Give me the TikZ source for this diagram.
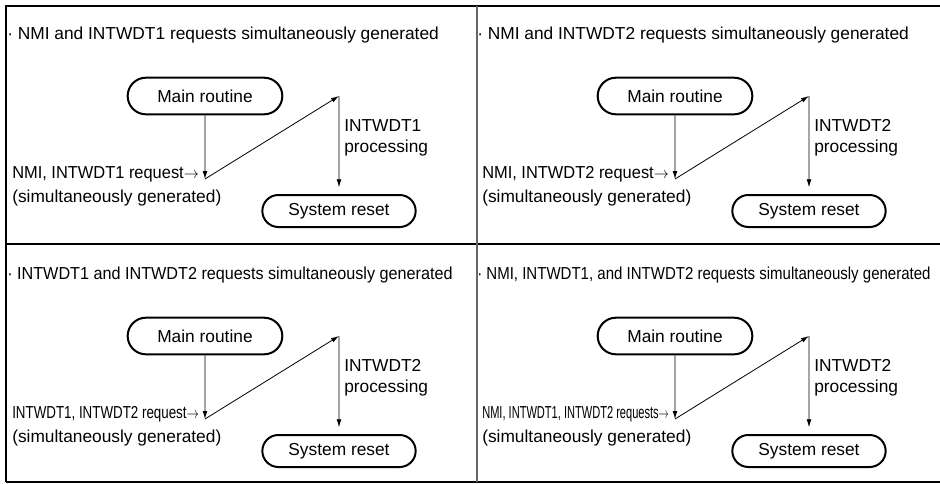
\documentclass[tikz,border=0pt]{standalone}
\usepackage{fontspec}
\setmainfont{Liberation Sans}
\usepackage{graphicx}
\usetikzlibrary{arrows.meta,shapes.misc,positioning}
\newcommand{\squeeze}[2]{\resizebox{#1}{\height}{#2}}
\newcommand{\reqline}[1]{\squeeze{140pt}{#1}}

\begin{document}
\begin{tikzpicture}[
    x=0.75pt, y=-0.75pt,
    every node/.style={font=\fontsize{13}{15.75}\selectfont},
    title/.style={anchor=west, inner sep=0pt},
    stadium/.style={draw, rounded rectangle, line width=1.5pt, inner sep=0pt},
    mainbox/.style={stadium, minimum width=116pt, minimum height=27.5pt},
    resetbox/.style={stadium, minimum width=115pt, minimum height=24pt},
    note/.style={align=left, inner sep=0pt, anchor=west},
    arrow/.style={line width=0.6pt, -{Latex[length=6pt,width=3.6pt]}},
    frame/.style={line width=1.8pt},
]
\useasboundingbox (0,0) rectangle (940,483);

% ===== FRAME =====
\draw[frame] (940,6) -- (6,6) -- (6,482);
\draw[line width=0.8pt] (6,482) -- (940,482);
\draw[line width=0.8pt] (6,244) -- (940,244);
\draw[line width=1.2pt, black!60] (477,6) -- (477,482);

% ===== NMI + INTWDT1 =====
\begin{scope}
\node[title] (t1) at (7,35) {· NMI and INTWDT1 requests simultaneously generated};
\node[mainbox]  (m1) at (205,96)  {Main routine};
\node[resetbox] (r1) at (339,211) {System reset};
\coordinate (p1) at (205,179);
\coordinate (q1) at (339,96);
\node[note] (n1) at (344,138) {INTWDT1\\processing};
\node[note] (s1) at (12,186) {\reqline{NMI, INTWDT1 request$\rightarrow$}\\[2pt](simultaneously generated)};
\draw[arrow] (m1) -- (p1);
\draw[arrow] (p1) -- (q1);
\draw[arrow, shorten >=5pt] (q1) -- (r1);
\end{scope}

% ===== NMI + INTWDT2 =====
\begin{scope}[shift={(470,0)}]
\node[title] (t2) at (7,35) {· NMI and INTWDT2 requests simultaneously generated};
\node[mainbox]  (m2) at (205,96)  {Main routine};
\node[resetbox] (r2) at (339,211) {System reset};
\coordinate (p2) at (205,179);
\coordinate (q2) at (339,96);
\node[note] (n2) at (344,138) {INTWDT2\\processing};
\node[note] (s2) at (12,186) {\reqline{NMI, INTWDT2 request$\rightarrow$}\\[2pt](simultaneously generated)};
\draw[arrow] (m2) -- (p2);
\draw[arrow] (p2) -- (q2);
\draw[arrow, shorten >=5pt] (q2) -- (r2);
\end{scope}

% ===== INTWDT1 + INTWDT2 =====
\begin{scope}[shift={(0,240)}]
\node[title] (t3) at (7,35) {\squeeze{334pt}{· INTWDT1 and INTWDT2 requests simultaneously generated}};
\node[mainbox]  (m3) at (205,96)  {Main routine};
\node[resetbox] (r3) at (339,211) {System reset};
\coordinate (p3) at (205,179);
\coordinate (q3) at (339,96);
\node[note] (n3) at (344,138) {INTWDT2\\processing};
\node[note] (s3) at (12,186) {\reqline{INTWDT1, INTWDT2 request$\rightarrow$}\\[2pt](simultaneously generated)};
\draw[arrow] (m3) -- (p3);
\draw[arrow] (p3) -- (q3);
\draw[arrow, shorten >=5pt] (q3) -- (r3);
\end{scope}

% ===== NMI + INTWDT1 + INTWDT2 =====
\begin{scope}[shift={(470,240)}]
\node[title] (t4) at (7,35) {\squeeze{340pt}{· NMI, INTWDT1, and INTWDT2 requests simultaneously generated}};
\node[mainbox]  (m4) at (205,96)  {Main routine};
\node[resetbox] (r4) at (339,211) {System reset};
\coordinate (p4) at (205,179);
\coordinate (q4) at (339,96);
\node[note] (n4) at (344,138) {INTWDT2\\processing};
\node[note] (s4) at (12,186) {\reqline{NMI, INTWDT1, INTWDT2 requests$\rightarrow$}\\[2pt](simultaneously generated)};
\draw[arrow] (m4) -- (p4);
\draw[arrow] (p4) -- (q4);
\draw[arrow, shorten >=5pt] (q4) -- (r4);
\end{scope}

\end{tikzpicture}
\end{document}
